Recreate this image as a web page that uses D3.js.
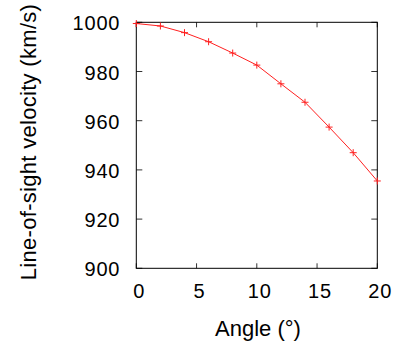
<!DOCTYPE html>
<html><head><meta charset="utf-8">
<script src="https://cdn.jsdelivr.net/npm/d3@7"></script>
<style>body{margin:0;background:#fff}svg{display:block}text{font-family:"Liberation Sans",Arial,Helvetica,sans-serif;fill:#000}</style>
</head><body><svg id="c" width="398" height="353"></svg>
<script>
const angles = [0, 2, 4, 6, 8, 10, 12, 14, 16, 18, 20];
const velocity = [999.5, 998.5, 995.8, 992.1, 987.5, 982.6, 975.0, 967.5, 957.4, 947.0, 935.5];
const xTicks = [0, 5, 10, 15, 20];
const yTicks = [900, 920, 940, 960, 980, 1000];
const xTitle = "Angle (°)";
const yTitle = "Line-of-sight velocity (km/s)";

const svg = d3.select("#c");
const L = 136.3, R = 377.3, T = 22.3, B = 268.3;
const x = d3.scaleLinear().domain([0, 20]).range([L, R]);
const y = d3.scaleLinear().domain([900, 1000]).range([B, T]);

// ticks (inward, on all four sides)
const tk = svg.append("g").attr("stroke", "#333").attr("stroke-width", 1);
xTicks.forEach(v => {
  tk.append("line").attr("x1", x(v)).attr("x2", x(v)).attr("y1", B).attr("y2", B - 5);
  tk.append("line").attr("x1", x(v)).attr("x2", x(v)).attr("y1", T).attr("y2", T + 5);
});
yTicks.forEach(v => {
  tk.append("line").attr("x1", L).attr("x2", L + 6).attr("y1", y(v)).attr("y2", y(v));
  tk.append("line").attr("x1", R).attr("x2", R - 6).attr("y1", y(v)).attr("y2", y(v));
});

// frame
svg.append("rect").attr("x", L).attr("y", T).attr("width", R - L).attr("height", B - T)
  .attr("fill", "none").attr("stroke", "#000").attr("stroke-width", 1);

// tick labels
svg.append("g").selectAll("text").data(xTicks).join("text")
  .attr("x", d => x(d) + 3).attr("y", B + 30).attr("text-anchor", "middle")
  .attr("font-size", 20).attr("letter-spacing", 0.8).text(d => d);
svg.append("g").selectAll("text").data(yTicks).join("text")
  .attr("x", L - 16).attr("y", d => y(d) + 1).attr("dy", "0.35em").attr("text-anchor", "end")
  .attr("font-size", 20).attr("letter-spacing", 0.8).text(d => d);

// titles
svg.append("text").attr("x", 258).attr("y", 336).attr("text-anchor", "middle")
  .attr("font-size", 22).text(xTitle);
svg.append("text").attr("transform", "translate(36,142) rotate(-90)").attr("text-anchor", "middle")
  .attr("font-size", 22).attr("letter-spacing", 0.3).text(yTitle);

// line + markers
const pts = angles.map((a, i) => [a, velocity[i]]);
svg.append("path").datum(pts)
  .attr("d", d3.line().x(d => x(d[0])).y(d => y(d[1])))
  .attr("fill", "none").attr("stroke", "#ff2020").attr("stroke-width", 1);
svg.append("g").attr("stroke", "#ff2020").attr("stroke-width", 1)
  .selectAll("path").data(pts).join("path")
  .attr("d", d => { const px = x(d[0]), py = y(d[1]); return `M${px-3.5},${py}H${px+3.5}M${px},${py-3.5}V${py+3.5}`; });
</script></body></html>
